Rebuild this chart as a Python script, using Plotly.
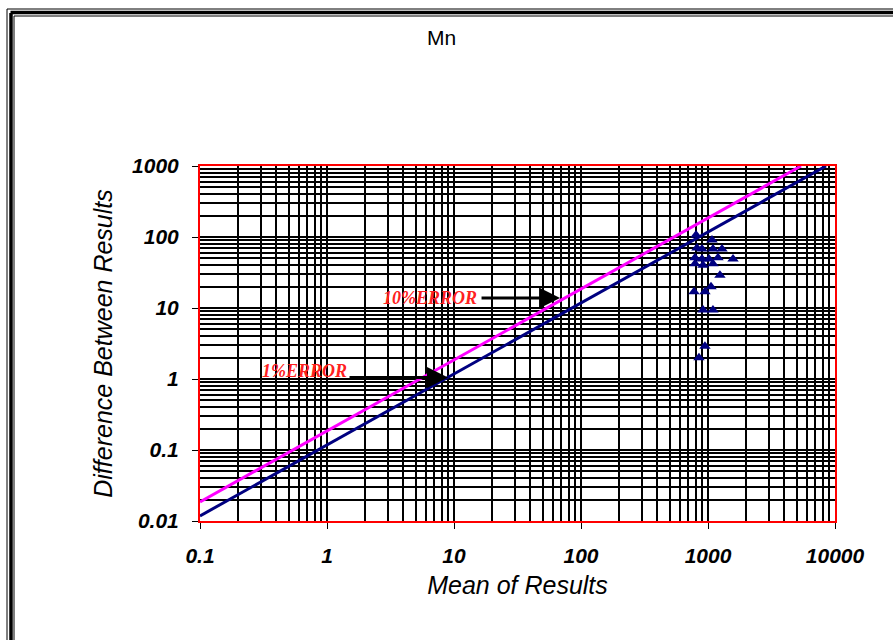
import plotly.graph_objects as go

# Data
mean_results = [805, 1075, 819, 897, 1094, 1289, 1574, 790, 897, 1018, 1199,
                790, 914, 1094, 1242, 776, 946, 1056, 914, 1094, 946, 849]
diff_results = [107, 91, 70, 68, 68, 68, 49, 51, 49, 49, 51,
                42, 40, 42, 29, 17, 17, 20, 9.4, 9.4, 2.9, 2.0]

line1_x = [0.1, 8500]
line1_y = [0.0118, 1000]
line10_x = [0.1, 5400]
line10_y = [0.0186, 1000]

x_ticks = [0.1, 1, 10, 100, 1000, 10000]
x_labels = ["0.1", "1", "10", "100", "1000", "10000"]
y_ticks = [0.01, 0.1, 1, 10, 100, 1000]
y_labels = ["0.01", "0.1", "1", "10", "100", "1000"]

W, H = 893, 640
L, R, T, B = 200, 58, 166, 119
PW, PH = W - L - R, H - T - B

def px(x):
    return (x - L) / PW

def py(y):
    return (H - B - y) / PH

fig = go.Figure()
fig.add_trace(go.Scatter(x=line10_x, y=line10_y, mode="lines",
                         line=dict(color="#FF00FF", width=3), showlegend=False))
fig.add_trace(go.Scatter(x=line1_x, y=line1_y, mode="lines",
                         line=dict(color="#000080", width=3), showlegend=False))
fig.add_trace(go.Scatter(x=mean_results, y=diff_results, mode="markers",
                         marker=dict(symbol="triangle-up", size=10, color="#000080"),
                         showlegend=False))

tickfont = dict(family="Liberation Sans, Arial", size=21, color="black",
                weight="bold", style="italic")
titlefont = dict(family="Liberation Sans, Arial", size=25, color="black", style="italic")
common = dict(type="log", ticks="outside", ticklen=6, tickcolor="black", tickwidth=1,
              tickfont=tickfont, showgrid=True, gridcolor="black", gridwidth=1.5,
              minor=dict(dtick="D1", showgrid=True, gridcolor="black", gridwidth=1.5, ticks=""),
              showline=True, linecolor="red", linewidth=2, mirror=True, zeroline=False)

fig.update_xaxes(range=[-1, 4], tickvals=x_ticks, ticktext=x_labels,
                 ticklabelstandoff=9,
                 title=dict(text="Mean of Results", font=titlefont, standoff=10), **common)
fig.update_yaxes(range=[-2, 3], tickvals=y_ticks, ticktext=y_labels,
                 ticklabelstandoff=9,
                 title=dict(text="Difference Between Results", font=titlefont, standoff=12), **common)

errfont = dict(family="Liberation Serif, Times New Roman", size=18, color="#FF2020")
annots = [
    dict(x=1.835, y=1.141, xref="x", yref="y", ax=-80, ay=0, text="", showarrow=True,
         arrowhead=2, arrowsize=1.4, arrowwidth=3, arrowcolor="black"),
    dict(x=0.953, y=0.02, xref="x", yref="y", ax=-100, ay=0, text="", showarrow=True,
         arrowhead=2, arrowsize=1.4, arrowwidth=3, arrowcolor="black"),
    dict(x=px(479), y=py(298), xref="paper", yref="paper", xanchor="right", yanchor="middle",
         text="<b><i>10%ERROR</i></b>", showarrow=False, font=errfont),
    dict(x=px(349), y=py(371), xref="paper", yref="paper", xanchor="right", yanchor="middle",
         text="<b><i>1%ERROR</i></b>", showarrow=False, font=errfont),
    dict(x=px(441), y=py(37), xref="paper", yref="paper", xanchor="center", yanchor="middle",
         text="Mn", showarrow=False,
         font=dict(family="Liberation Sans, Arial", size=21, color="black")),
]

shapes = []
# Outer double frame (left and top edges)
for xpos, w in [(7, 1), (11, 3.5), (14, 1)]:
    shapes.append(dict(type="line", xref="paper", yref="paper",
                       x0=px(xpos), x1=px(xpos), y0=py(xpos + 2), y1=py(H + 5),
                       line=dict(color="black", width=w)))
for ypos, w in [(9, 1), (12.5, 3.5), (16, 1)]:
    shapes.append(dict(type="line", xref="paper", yref="paper",
                       x0=px(ypos - 2), x1=px(W + 5), y0=py(ypos), y1=py(ypos),
                       line=dict(color="black", width=w)))

fig.update_layout(width=W, height=H, margin=dict(l=L, r=R, t=T, b=B),
                  paper_bgcolor="white", plot_bgcolor="white",
                  annotations=annots, shapes=shapes, showlegend=False)

fig.write_html("out.html")
